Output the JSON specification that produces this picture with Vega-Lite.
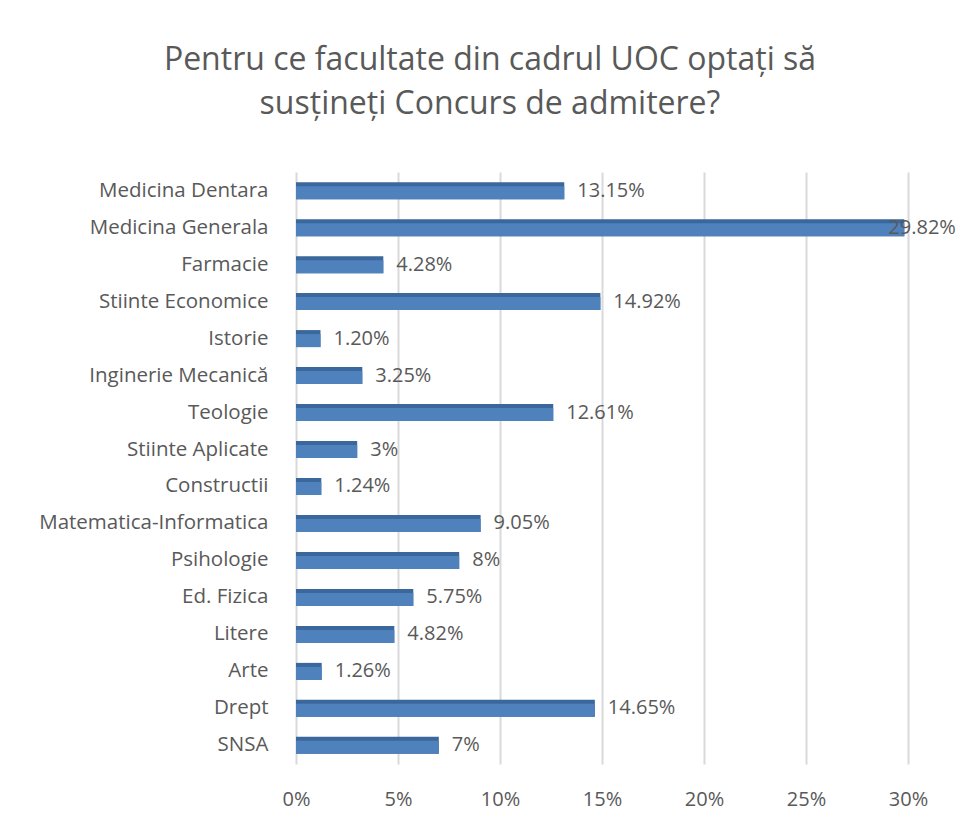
{
  "$schema": "https://vega.github.io/schema/vega-lite/v6.json",
  "autosize": {"type": "none"},
  "width": 612,
  "height": 592,
  "padding": {"left": 296, "top": 172, "right": 52, "bottom": 66},
  "background": "white",
  "title": {
    "text": ["Pentru ce facultate  din cadrul UOC optați să", "susțineți Concurs de admitere?"],
    "fontSize": 32,
    "font": "Open Sans",
    "fontWeight": "normal",
    "color": "#595959",
    "anchor": "middle",
    "dx": -112,
    "offset": 51,
    "lineHeight": 44
  },
  "data": {
    "values": [
      {"facultate": "Medicina Dentara", "procent": 0.1315, "eticheta": "13.15%"},
      {"facultate": "Medicina Generala", "procent": 0.2982, "eticheta": "29.82%"},
      {"facultate": "Farmacie ", "procent": 0.0428, "eticheta": "4.28%"},
      {"facultate": "Stiinte Economice", "procent": 0.1492, "eticheta": "14.92%"},
      {"facultate": "Istorie", "procent": 0.012, "eticheta": "1.20%"},
      {"facultate": "Inginerie Mecanică", "procent": 0.0325, "eticheta": "3.25%"},
      {"facultate": "Teologie", "procent": 0.1261, "eticheta": "12.61%"},
      {"facultate": "Stiinte Aplicate", "procent": 0.03, "eticheta": "3%"},
      {"facultate": "Constructii", "procent": 0.0124, "eticheta": "1.24%"},
      {"facultate": "Matematica-Informatica", "procent": 0.0905, "eticheta": "9.05%"},
      {"facultate": "Psihologie", "procent": 0.08, "eticheta": "8%"},
      {"facultate": "Ed. Fizica", "procent": 0.0575, "eticheta": "5.75%"},
      {"facultate": "Litere", "procent": 0.0482, "eticheta": "4.82%"},
      {"facultate": "Arte", "procent": 0.0126, "eticheta": "1.26%"},
      {"facultate": "Drept", "procent": 0.1465, "eticheta": "14.65%"},
      {"facultate": "SNSA", "procent": 0.07, "eticheta": "7%"}
    ]
  },
  "encoding": {
    "y": {
      "field": "facultate",
      "type": "nominal",
      "sort": null,
      "scale": {"paddingInner": 0.55, "paddingOuter": 0.28},
      "axis": {
        "title": null,
        "ticks": false,
        "domain": false,
        "labelPadding": 28,
        "labelFontSize": 20.5,
        "labelLimit": 400,
        "labelFont": "Open Sans",
        "labelColor": "#595959"
      }
    },
    "x": {
      "field": "procent",
      "type": "quantitative",
      "scale": {"domain": [0, 0.3], "nice": false},
      "axis": {
        "title": null,
        "format": ".0%",
        "values": [0, 0.05, 0.1, 0.15, 0.2, 0.25, 0.3],
        "ticks": false,
        "domain": false,
        "grid": true,
        "gridColor": "#D9D9D9",
        "gridWidth": 2,
        "labelFlush": false,
        "labelPadding": 25,
        "labelFontSize": 20,
        "labelFont": "Open Sans",
        "labelColor": "#595959"
      }
    }
  },
  "layer": [
    {"mark": {"type": "bar", "color": "#3A679C", "size": 17}},
    {"mark": {"type": "bar", "color": "#4F81BD", "size": 13, "yOffset": 2}, "encoding": {"x2": {"datum": 0}}},
    {
      "transform": [{"filter": "datum.procent < 0.25"}],
      "mark": {"type": "text", "align": "left", "dx": 13, "fontSize": 20, "font": "Open Sans", "color": "#595959"},
      "encoding": {"text": {"field": "eticheta"}}
    },
    {
      "transform": [{"filter": "datum.procent >= 0.25"}],
      "mark": {"type": "text", "align": "left", "dx": -16, "fontSize": 20, "font": "Open Sans", "color": "#595959"},
      "encoding": {"text": {"field": "eticheta"}}
    }
  ],
  "config": {"view": {"stroke": null}}
}
